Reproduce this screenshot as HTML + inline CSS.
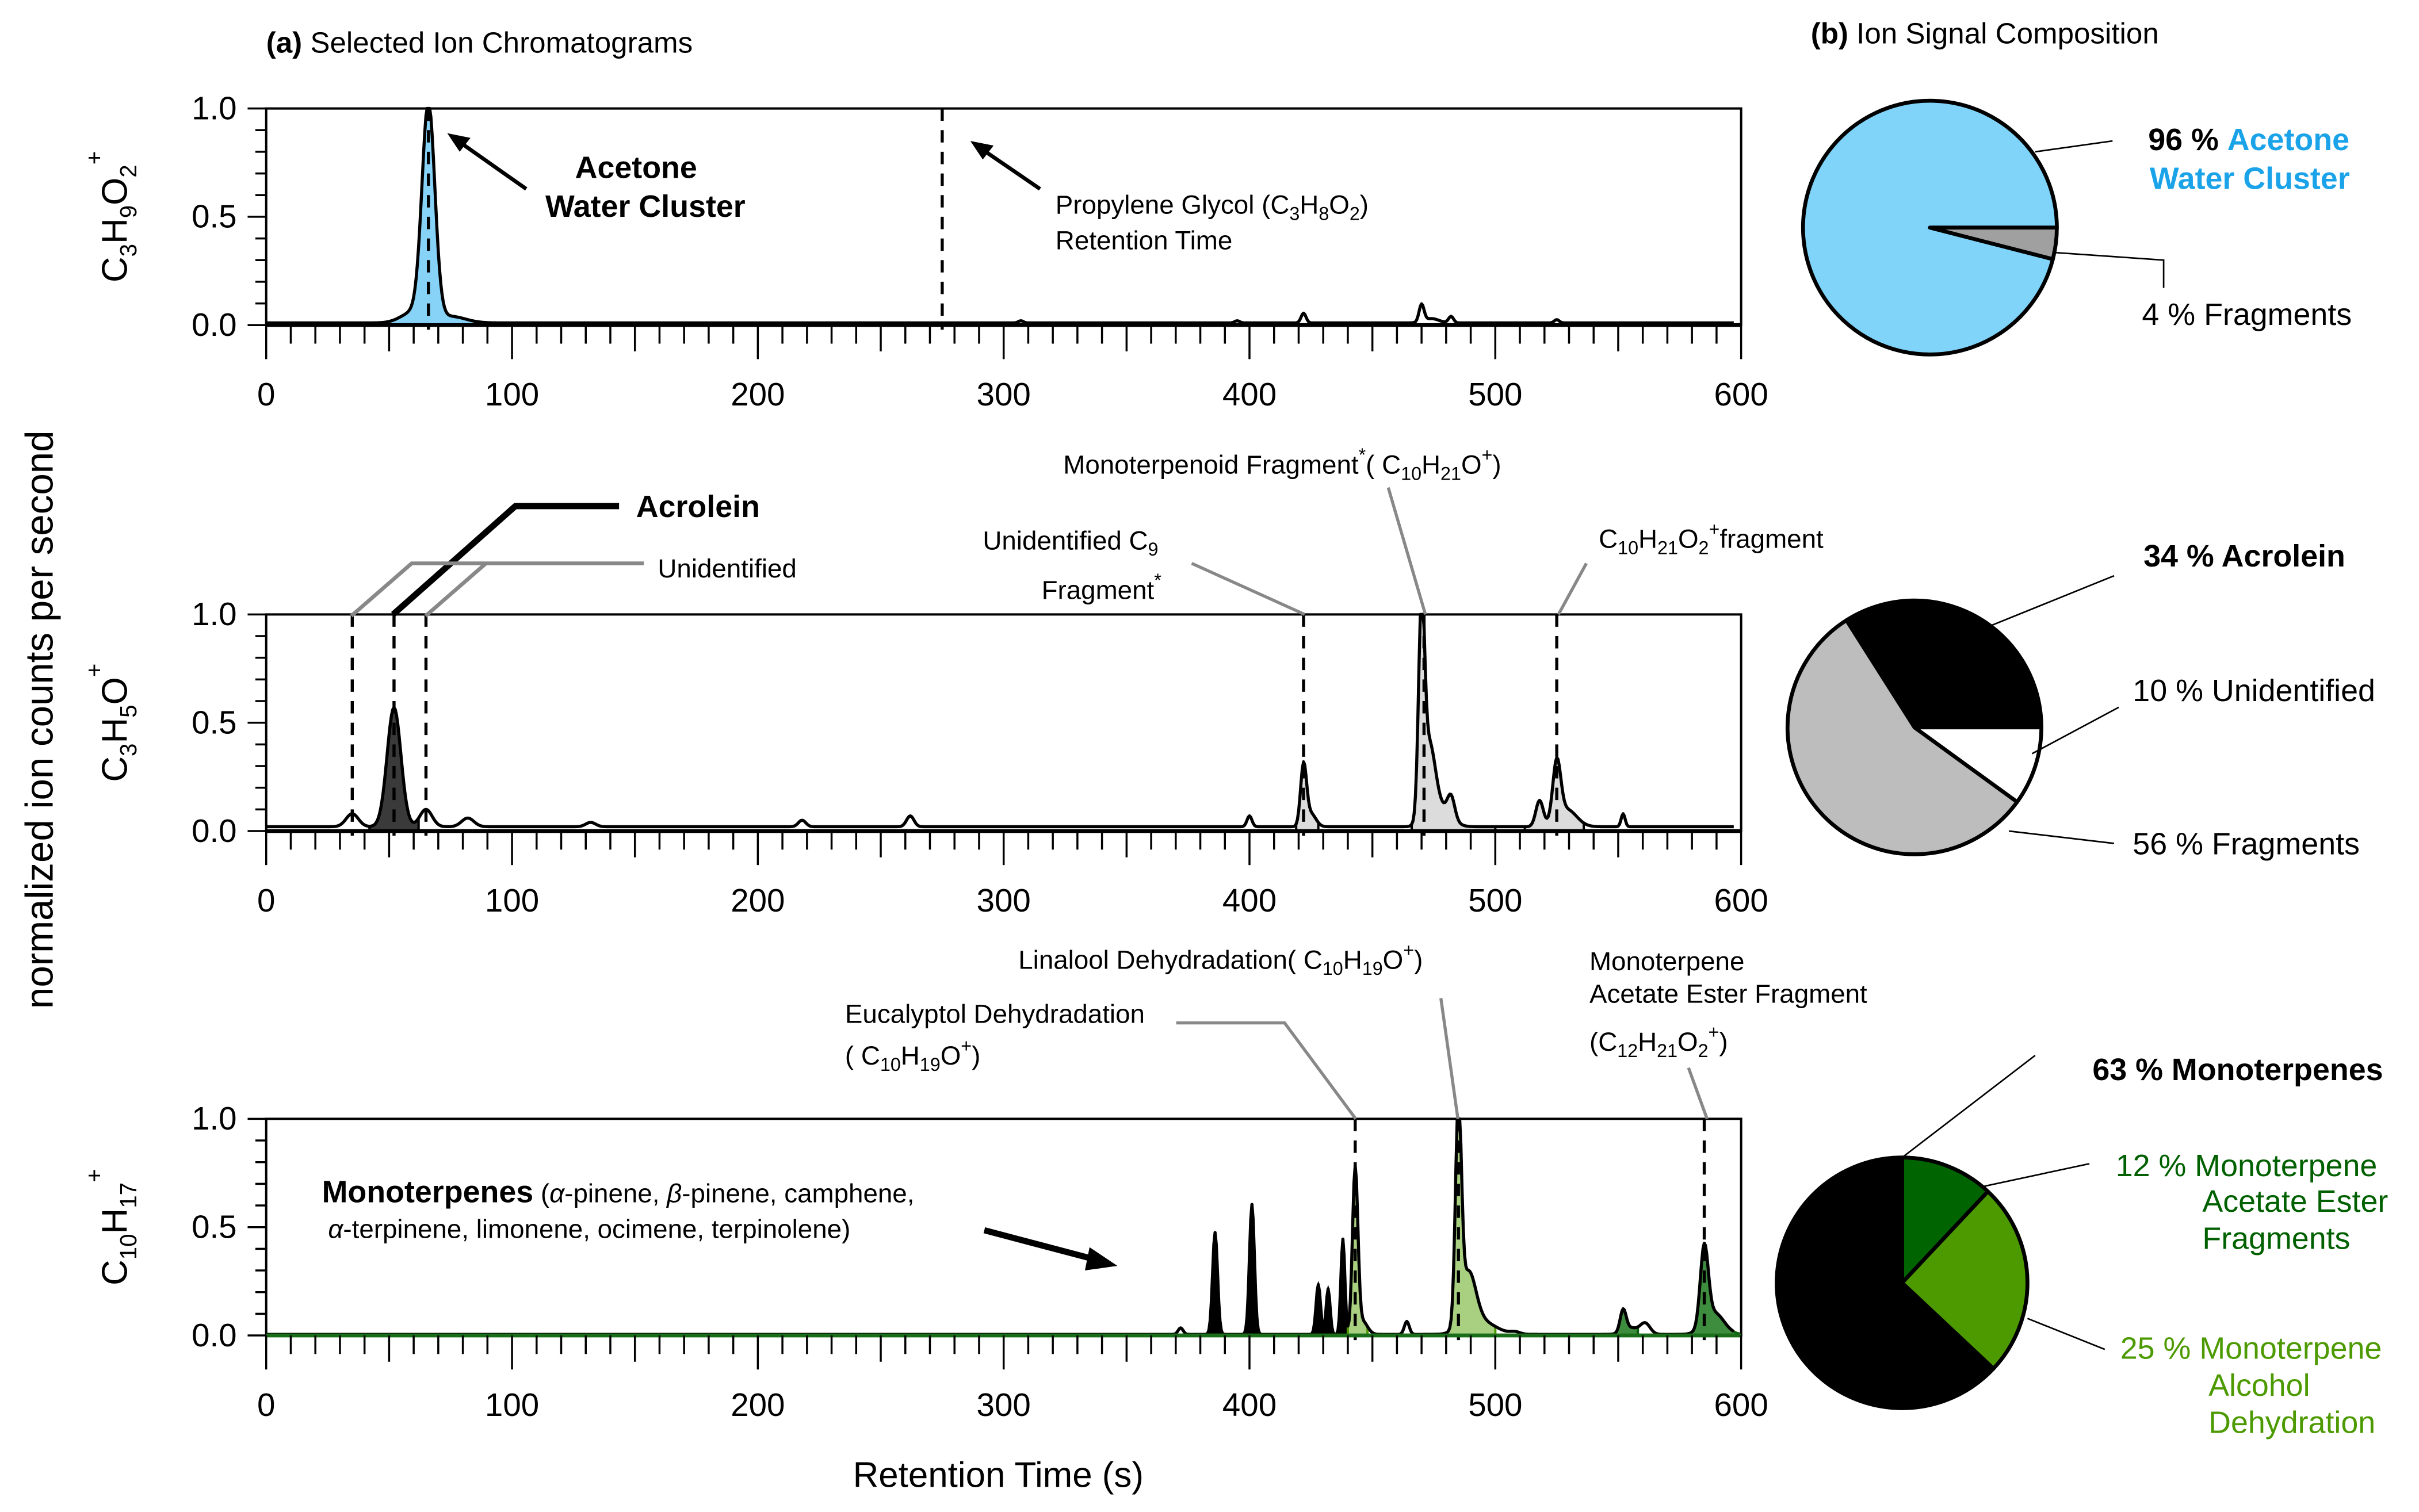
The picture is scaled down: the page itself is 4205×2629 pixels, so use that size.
<!DOCTYPE html>
<html><head><meta charset="utf-8"><style>
html,body{margin:0;padding:0;background:#fff}
svg{display:block}
text{font-family:"Liberation Sans",Arial,sans-serif}
</style></head><body>
<svg id="chart" width="4205" height="2629" viewBox="0 0 1563 977" xmlns="http://www.w3.org/2000/svg">
<g id="panels"></g>
<g id="annot" font-size="17">
  <text x="172" y="34" font-size="19"><tspan font-weight="bold">(a)</tspan> Selected Ion Chromatograms</text>
  <text x="1170" y="28" font-size="19"><tspan font-weight="bold">(b)</tspan> Ion Signal Composition</text>
  <text transform="translate(34,465) rotate(-90)" text-anchor="middle" font-size="25">normalized ion counts per second</text>
  <text x="645" y="961" text-anchor="middle" font-size="23">Retention Time (s)</text>

  <text transform="translate(82,140) rotate(-90)" text-anchor="middle" font-size="23">C<tspan font-size="15" dy="6">3</tspan><tspan dy="-6">H</tspan><tspan font-size="15" dy="6">9</tspan><tspan dy="-6">O</tspan><tspan font-size="15" dy="6">2</tspan><tspan font-size="15" dy="-22">+</tspan></text>
  <text transform="translate(82,467) rotate(-90)" text-anchor="middle" font-size="23">C<tspan font-size="15" dy="6">3</tspan><tspan dy="-6">H</tspan><tspan font-size="15" dy="6">5</tspan><tspan dy="-6">O</tspan><tspan font-size="15" dy="-16">+</tspan></text>
  <text transform="translate(82,793) rotate(-90)" text-anchor="middle" font-size="23">C<tspan font-size="15" dy="6">10</tspan><tspan dy="-6">H</tspan><tspan font-size="15" dy="6">17</tspan><tspan font-size="15" dy="-22">+</tspan></text>

  <text x="411" y="115" text-anchor="middle" font-size="20" font-weight="bold">Acetone</text>
  <text x="417" y="140" text-anchor="middle" font-size="20" font-weight="bold">Water Cluster</text>
  <line x1="340" y1="122" x2="296" y2="91" stroke="#000" stroke-width="2.5"/>
  <polygon points="289,86 304,89 297,98" fill="#000"/>
  <text x="682" y="138">Propylene Glycol (C<tspan font-size="12" dy="4">3</tspan><tspan dy="-4">H</tspan><tspan font-size="12" dy="4">8</tspan><tspan dy="-4">O</tspan><tspan font-size="12" dy="4">2</tspan><tspan dy="-4">)</tspan></text>
  <text x="682" y="161">Retention Time</text>
  <line x1="672" y1="122" x2="634" y2="96" stroke="#000" stroke-width="2.5"/>
  <polygon points="627,91 642,94 635,103" fill="#000"/>

  <polyline points="254,397 333,327 400,327" fill="none" stroke="#000" stroke-width="4"/>
  <text x="411" y="334" font-size="20" font-weight="bold">Acrolein</text>
  <polyline points="227,398 266,364 416,364" fill="none" stroke="#888" stroke-width="2.5"/>
  <line x1="275" y1="398" x2="314" y2="364" stroke="#888" stroke-width="2.5"/>
  <text x="425" y="373">Unidentified</text>
  <text x="635" y="355">Unidentified C<tspan font-size="12" dy="4">9</tspan></text>
  <text x="673" y="387">Fragment<tspan font-size="12" dy="-8">*</tspan></text>
  <line x1="843" y1="397" x2="770" y2="364" stroke="#888" stroke-width="2"/>
  <text x="687" y="306">Monoterpenoid Fragment<tspan font-size="12" dy="-8">*</tspan><tspan dy="8">( C</tspan><tspan font-size="12" dy="4">10</tspan><tspan dy="-4">H</tspan><tspan font-size="12" dy="4">21</tspan><tspan dy="-4">O</tspan><tspan font-size="12" dy="-8">+</tspan><tspan dy="8">)</tspan></text>
  <line x1="921" y1="397" x2="897" y2="315" stroke="#888" stroke-width="2"/>
  <text x="1033" y="354">C<tspan font-size="12" dy="4">10</tspan><tspan dy="-4">H</tspan><tspan font-size="12" dy="4">21</tspan><tspan dy="-4">O</tspan><tspan font-size="12" dy="4">2</tspan><tspan font-size="12" dy="-12">+</tspan><tspan dy="8">fragment</tspan></text>
  <line x1="1007" y1="397" x2="1025" y2="364" stroke="#888" stroke-width="2"/>

  <text x="546" y="661">Eucalyptol Dehydradation</text>
  <text x="546" y="688">( C<tspan font-size="12" dy="4">10</tspan><tspan dy="-4">H</tspan><tspan font-size="12" dy="4">19</tspan><tspan dy="-4">O</tspan><tspan font-size="12" dy="-8">+</tspan><tspan dy="8">)</tspan></text>
  <polyline points="876,723 830,661 760,661" fill="none" stroke="#888" stroke-width="2"/>
  <text x="658" y="626">Linalool Dehydradation( C<tspan font-size="12" dy="4">10</tspan><tspan dy="-4">H</tspan><tspan font-size="12" dy="4">19</tspan><tspan dy="-4">O</tspan><tspan font-size="12" dy="-8">+</tspan><tspan dy="8">)</tspan></text>
  <line x1="942" y1="723" x2="931" y2="645" stroke="#888" stroke-width="2"/>
  <text x="1027" y="627">Monoterpene</text>
  <text x="1027" y="648">Acetate Ester Fragment</text>
  <text x="1027" y="679">(C<tspan font-size="12" dy="4">12</tspan><tspan dy="-4">H</tspan><tspan font-size="12" dy="4">21</tspan><tspan dy="-4">O</tspan><tspan font-size="12" dy="4">2</tspan><tspan font-size="12" dy="-12">+</tspan><tspan dy="8">)</tspan></text>
  <line x1="1103" y1="723" x2="1091" y2="690" stroke="#888" stroke-width="2"/>
  <text x="208" y="777"><tspan font-size="20" font-weight="bold">Monoterpenes</tspan> (<tspan font-style="italic">α</tspan>-pinene, <tspan font-style="italic">β</tspan>-pinene, camphene,</text>
  <text x="212" y="800"><tspan font-style="italic">α</tspan>-terpinene, limonene, ocimene, terpinolene)</text>
  <line x1="636" y1="795" x2="708" y2="814" stroke="#000" stroke-width="4"/>
  <polygon points="722,818 704,806 701,821" fill="#000"/>
</g>
<g id="pies"></g>
<g id="pielabels" font-size="20">
  <text x="1388" y="97" font-weight="bold">96 % <tspan fill="#1aa3e8">Acetone</tspan></text>
  <text x="1389" y="122" font-weight="bold" fill="#1aa3e8">Water Cluster</text>
  <text x="1384" y="210">4 % Fragments</text>
  <polyline points="1315,98 1365,91" fill="none" stroke="#000" stroke-width="1"/>
  <polyline points="1326,163 1398,168 1398,186" fill="none" stroke="#000" stroke-width="1"/>
  <text x="1385" y="366" font-weight="bold">34 % Acrolein</text>
  <text x="1378" y="453">10 % Unidentified</text>
  <text x="1378" y="552">56 % Fragments</text>
  <line x1="1287" y1="404" x2="1366" y2="372" stroke="#000" stroke-width="1"/>
  <line x1="1313" y1="487" x2="1369" y2="457" stroke="#000" stroke-width="1"/>
  <line x1="1298" y1="537" x2="1366" y2="545" stroke="#000" stroke-width="1"/>
  <text x="1352" y="698" font-weight="bold">63 % Monoterpenes</text>
  <text x="1367" y="760" fill="#006000">12 % Monoterpene</text>
  <text x="1423" y="783" fill="#006000">Acetate Ester</text>
  <text x="1423" y="807" fill="#006000">Fragments</text>
  <text x="1370" y="878" fill="#4d9a00">25 % Monoterpene</text>
  <text x="1427" y="902" fill="#4d9a00">Alcohol</text>
  <text x="1427" y="926" fill="#4d9a00">Dehydration</text>
  <line x1="1229" y1="748" x2="1315" y2="682" stroke="#000" stroke-width="1"/>
  <line x1="1280" y1="767" x2="1350" y2="752" stroke="#000" stroke-width="1"/>
  <line x1="1310" y1="852" x2="1360" y2="872" stroke="#000" stroke-width="1"/>
</g>
</svg>
<script>
// ---- data ----
const xTicks = [0,100,200,300,400,500,600];
const yTicks = [0.0,0.5,1.0];
// peaks: [retention time s, normalized height, width s]
const peaks1 = [[66,0.99,2.6],[60,0.05,5],[75,0.03,6],[307,0.01,1],[395,0.01,1],[422,0.045,1],[470,0.08,1],[474,0.02,3],[482,0.03,1],[525,0.015,1]];
const base1 = 0.01;
const peaks2 = [[35,0.06,2.5],[52,0.55,2.8],[65,0.08,2.5],[82,0.04,2.5],[132,0.02,2],[218,0.03,1.5],[262,0.05,1.5],[400,0.05,1],[422,0.28,1.2],[425,0.06,2],[470,0.93,1.2],[473,0.35,2.5],[478,0.08,4],[482,0.1,1.5],[518,0.12,1.5],[525,0.27,1.6],[529,0.08,4],[552,0.06,0.8]];
const base2 = 0.02;
const peaks3 = [[372,0.03,1],[386,0.47,1],[401,0.6,1],[428,0.23,0.9],[432,0.21,0.8],[438,0.44,0.8],[443,0.76,1.1],[446,0.06,2],[464,0.06,1],[485,0.99,1.2],[489,0.25,3],[494,0.06,6],[508,0.01,2],[552,0.1,1.2],[555,0.03,3],[561,0.05,2],[585,0.36,1.6],[589,0.1,4]];
const base3 = 0.005;
const marks1 = [66,275];
const marks2 = [35,52,65,422,471,525];
const marks3 = [443,485,585];
// fills: [t0, t1, fill colour, stroke colour]
const fills1 = [[48,85,'#87d3f8','#000']];
const fills2 = [[42,62,'#3a3a3a','#000'],[419,428,'#dcdcdc','#000'],[466,500,'#dcdcdc','#000'],[512,536,'#dcdcdc','#000']];
const fills3 = [[380,440,'#000','#000'],[440,448,'#a8d080','#4d9a00'],[480,500,'#a8d080','#4d9a00'],[548,558,'#3e8c3e','#0b5e0b'],[578,600,'#3e8c3e','#0b5e0b']];
const pie1Fractions = [0.96,0.04];
const pie2Fractions = [0.34,0.56,0.10];
const pie3Fractions = [0.12,0.25,0.63];

// ---- drawing ----
const NS='http://www.w3.org/2000/svg';
const X0=172, X1=1125;
function xs(t){return X0+(t/600)*(X1-X0);}
function mk(tag,attrs,parent){const e=document.createElementNS(NS,tag);for(const k in attrs)e.setAttribute(k,attrs[k]);parent.appendChild(e);return e;}
function val(peaks,base,t){let y=base;for(const p of peaks){const d=(t-p[0])/p[2];y+=p[1]*Math.exp(-0.5*d*d);}return y;}
const panelsG=document.getElementById('panels');
function panel(idx,yTop,peaks,base,marks,fills,lineColor){
  const yBot=yTop+140;
  const ys=v=>yBot-v*(yBot-yTop);
  const g=mk('g',{},panelsG);
  
  
  for(const f of fills){
    let d='M'+xs(f[0])+','+ys(0);
    for(let t=f[0];t<=f[1]+1e-6;t+=0.25){d+=' L'+xs(t).toFixed(2)+','+ys(Math.min(val(peaks,base,t),1)).toFixed(2);}
    d+=' L'+xs(f[1])+','+ys(0)+'Z';
    const p=mk('path',{d:d,fill:f[2],stroke:f[3],'stroke-width':1.5},g);
    
    
  }
  let d='';
  for(let t=0;t<=597;t+=0.5){d+=(t===0?'M':' L')+xs(t).toFixed(2)+','+ys(Math.min(val(peaks,base,t),1)).toFixed(2);}
  const tr=mk('path',{d:d,fill:'none',stroke:lineColor,'stroke-width':2,'stroke-linejoin':'round'},g);
  
  
  for(const m of marks){
    const l=mk('line',{x1:xs(m),x2:xs(m),y1:yTop,y2:yBot+3,stroke:'#000','stroke-width':2,'stroke-dasharray':'8,6'},g);
    
    
  }
  mk('path',{d:`M${X0},${yTop} H${X1} V${yBot} H${X0} Z`,fill:'none',stroke:'#000','stroke-width':1.5},g);
  mk('line',{x1:X0,x2:X1,y1:yBot,y2:yBot,stroke:idx===3?'#1a6e1a':'#000','stroke-width':2.5},g);
  for(let t=0;t<=600;t+=10){
    const len=t%100===0?22:(t%50===0?17:12);
    mk('line',{x1:xs(t),x2:xs(t),y1:yBot,y2:yBot+len,stroke:'#000','stroke-width':1.3},g);
  }
  for(const t of xTicks){
    const tx=mk('text',{x:xs(t),y:yBot+52,'text-anchor':'middle','font-size':21},g);
    tx.textContent=t;
    
    
  }
  for(let v=0;v<=1.0001;v+=0.1){
    const major=Math.abs(v*2-Math.round(v*2))<1e-6;
    mk('line',{x1:X0-(major?12:7),x2:X0,y1:ys(v),y2:ys(v),stroke:'#000','stroke-width':1.3},g);
  }
  for(const v of yTicks){
    const tx=mk('text',{x:X0-19,y:ys(v)+7,'text-anchor':'end','font-size':21},g);
    tx.textContent=v.toFixed(1);
    
    
  }
}
panel(1,70,peaks1,base1,marks1,fills1,'#000');
panel(2,397,peaks2,base2,marks2,fills2,'#000');
panel(3,723,peaks3,base3,marks3,fills3,'#000');

const piesG=document.getElementById('pies');
function wedge(cx,cy,r,a0,a1,fill,name){
  const p=a=>[cx+r*Math.cos(a*Math.PI/180),cy+r*Math.sin(a*Math.PI/180)];
  const [x0,y0]=p(a0),[x1,y1]=p(a1);
  const large=(a1-a0)>180?1:0;
  const e=mk('path',{d:`M${cx},${cy} L${x0},${y0} A${r},${r} 0 ${large} 1 ${x1},${y1} Z`,fill:fill,stroke:'#000','stroke-width':2.5,'stroke-linejoin':'round'},piesG);
  
  
}
{let a=0;const fr=pie1Fractions[1]*360;wedge(1247,147,82,a+fr,a+360,'#80d4fa','pie1-acetone-slice');wedge(1247,147,82,a,a+fr,'#a0a0a0','pie1-fragments-slice');}
{const a1=pie2Fractions[0]*360,a2=pie2Fractions[1]*360;
 wedge(1237,470,82,-a1,0,'#000','pie2-acrolein-slice');
 wedge(1237,470,82,-a1-a2,-a1,'#bdbdbd','pie2-fragments-slice');
 wedge(1237,470,82,-360,-a1-a2,'#fff','pie2-unidentified-slice');}
{const s=-90,b1=pie3Fractions[0]*360,b2=pie3Fractions[1]*360;
 wedge(1229,829,81,s,s+b1,'#006400','pie3-acetate-slice');
 wedge(1229,829,81,s+b1,s+b1+b2,'#4d9a00','pie3-alcohol-slice');
 wedge(1229,829,81,s+b1+b2,s+360,'#000','pie3-monoterpenes-slice');}
</script>
</body></html>
